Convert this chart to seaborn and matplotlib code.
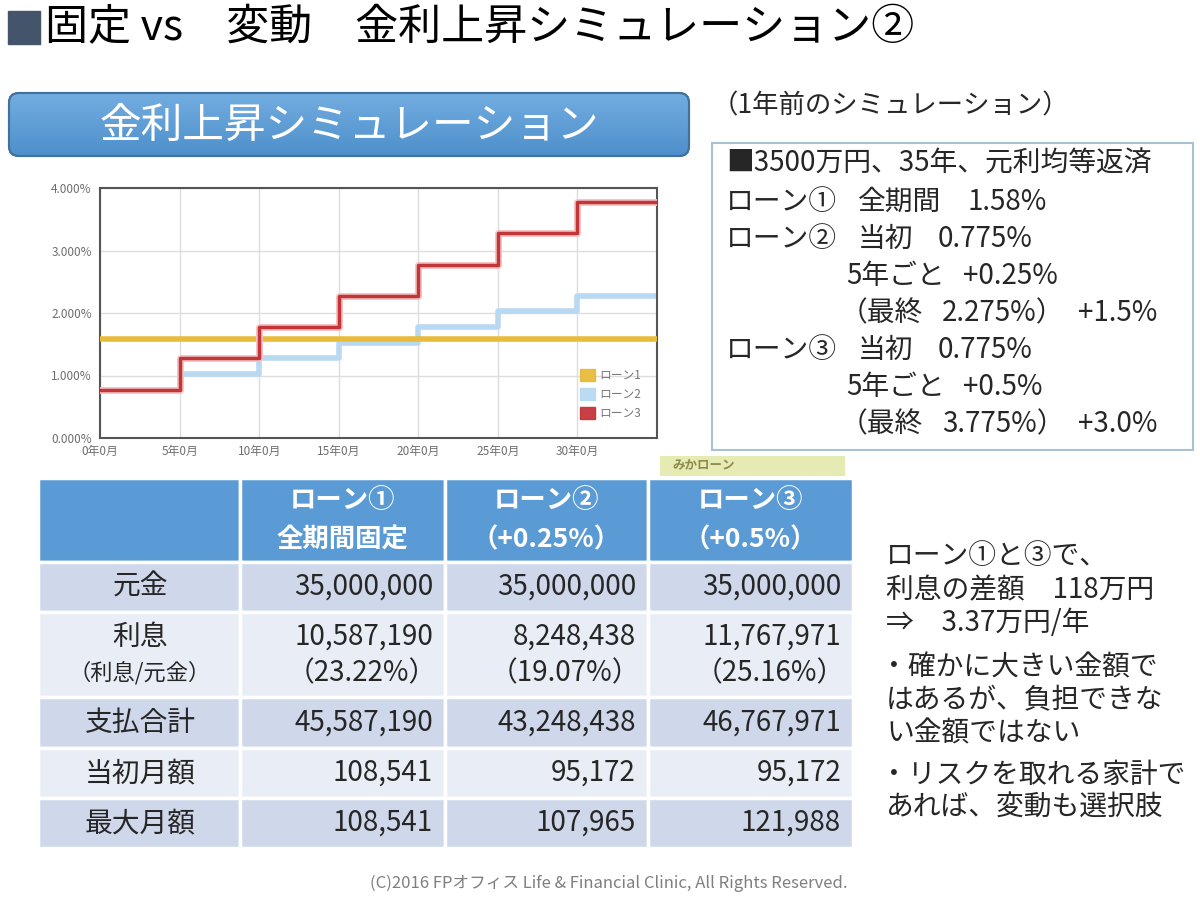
import numpy as np
import pandas as pd
import matplotlib.pyplot as plt
import seaborn as sns
from matplotlib.patches import Rectangle, FancyBboxPatch, Patch
import matplotlib.patheffects as pe

sns.set_theme(style='white')
plt.rcParams['font.family'] = ['Noto Sans CJK JP', 'DejaVu Sans']

# データ
years = [0, 5, 10, 15, 20, 25, 30, 35]
loan1_rate = [1.58, 1.58, 1.58, 1.58, 1.58, 1.58, 1.58, 1.58]
loan2_rate = [0.775, 1.025, 1.275, 1.525, 1.775, 2.025, 2.275, 2.275]
loan3_rate = [0.775, 1.275, 1.775, 2.275, 2.775, 3.275, 3.775, 3.775]
loan_labels = ['ローン1', 'ローン2', 'ローン3']
loan_colors = ['#E8BC3A', '#B9D8F2', '#C4353A']
yticks = [0, 1, 2, 3, 4]
xticks = [0, 5, 10, 15, 20, 25, 30]

col_headers = [('ローン①', '全期間固定'), ('ローン②', '（+0.25%）'), ('ローン③', '（+0.5%）')]
row_labels = ['元金', '利息', '支払合計', '当初月額', '最大月額']
principal = ['35,000,000', '35,000,000', '35,000,000']
interest = ['10,587,190', '8,248,438', '11,767,971']
interest_ratio = ['（23.22%）', '（19.07%）', '（25.16%）']
total_paid = ['45,587,190', '43,248,438', '46,767,971']
first_monthly = ['108,541', '95,172', '95,172']
max_monthly = ['108,541', '107,965', '121,988']

fig = plt.figure(figsize=(12, 9.02), dpi=100)
fig.patch.set_facecolor('white')

# ピクセル座標の背景レイヤー
bg = fig.add_axes([0, 0, 1, 1])
bg.set_xlim(0, 1200)
bg.set_ylim(902, 0)
bg.axis('off')

# タイトル
bg.add_patch(Rectangle((8, 11), 32, 33, color='#44546A'))
bg.text(45, 28, '固定 vs　変動　金利上昇シミュレーション②', fontsize=31, va='center', ha='left', color='black')

# 青いボックス
box = FancyBboxPatch((9, 93), 680, 63, boxstyle='round,pad=0,rounding_size=10',
                     facecolor='#5B9BD5', edgecolor='#41719C', linewidth=1.5)
bg.add_patch(box)
grad = np.linspace(0, 1, 100).reshape(-1, 1)
im = bg.imshow(grad, extent=(9, 689, 156, 93), cmap=sns.blend_palette(['#72ADE0', '#4E8FCB'], as_cmap=True),
               aspect='auto', zorder=2)
im.set_clip_path(box)
bg.add_patch(FancyBboxPatch((9, 93), 680, 63, boxstyle='round,pad=0,rounding_size=10',
                            facecolor='none', edgecolor='#41719C', linewidth=1.5, zorder=3))
bg.text(349, 126, '金利上昇シミュレーション', fontsize=30, color='white', ha='center', va='center', zorder=4)

bg.text(712, 106, '（1年前のシミュレーション）', fontsize=19, ha='left', va='center')

# 右側の条件ボックス
bg.add_patch(Rectangle((712, 143), 481, 307, facecolor='white', edgecolor='#A9C2D2', linewidth=1.5))
fs = 20
bg.text(726, 164, '■3500万円、35年、元利均等返済', fontsize=fs, va='center')
bg.text(726, 202, 'ローン①', fontsize=fs, va='center')
bg.text(858, 202, '全期間', fontsize=fs, va='center')
bg.text(968, 202, '1.58%', fontsize=fs, va='center')
for y0, name, step, last, total in [(239, 'ローン②', '+0.25%', '2.275%', '+1.5%'),
                                     (350, 'ローン③', '+0.5%', '3.775%', '+3.0%')]:
    bg.text(726, y0, name, fontsize=fs, va='center')
    bg.text(858, y0, '当初', fontsize=fs, va='center')
    bg.text(938, y0, '0.775%', fontsize=fs, va='center')
    bg.text(846, y0 + 37, '5年ごと', fontsize=fs, va='center')
    bg.text(963, y0 + 37, step, fontsize=fs, va='center')
    bg.text(840, y0 + 74, '（最終', fontsize=fs, va='center')
    bg.text(942, y0 + 74, last + '）', fontsize=fs, va='center')
    bg.text(1078, y0 + 74, total, fontsize=fs, va='center')

# ロゴ風の帯
bg.add_patch(Rectangle((660, 456), 185, 20, facecolor='#E6EBB4', edgecolor='none'))
bg.text(672, 466, 'みかローン', fontsize=9, color='#8C8A4A', fontweight='bold', va='center')

# 表
xs = [38, 240, 445, 648, 853]
ys = [478, 562, 612, 697, 748, 798, 848]
dark = '#CFD8EA'
light = '#E9EDF5'
row_colors = [dark, light, dark, light, dark]
for c in range(4):
    bg.add_patch(Rectangle((xs[c], ys[0]), xs[c + 1] - xs[c], ys[1] - ys[0],
                           facecolor='#5B9BD5', edgecolor='white', linewidth=2.5))
for r in range(5):
    for c in range(4):
        bg.add_patch(Rectangle((xs[c], ys[r + 1]), xs[c + 1] - xs[c], ys[r + 2] - ys[r + 1],
                               facecolor=row_colors[r], edgecolor='white', linewidth=2.5))

for c, (h1, h2) in enumerate(col_headers):
    cx = (xs[c + 1] + xs[c + 2]) / 2
    bg.text(cx, 500, h1, fontsize=19, color='white', fontweight='bold', ha='center', va='center')
    bg.text(cx, 540, h2, fontsize=19, color='white', fontweight='bold', ha='center', va='center')

tfs = 20
label_x = 140
for r, lab in enumerate(row_labels):
    cy = (ys[r + 1] + ys[r + 2]) / 2
    if lab == '利息':
        bg.text(label_x, 637, lab, fontsize=tfs, ha='center', va='center')
        bg.text(label_x, 673, '（利息/元金）', fontsize=16, ha='center', va='center')
    else:
        bg.text(label_x, cy, lab, fontsize=tfs, ha='center', va='center')

values = [principal, interest, total_paid, first_monthly, max_monthly]
for r, vals in enumerate(values):
    cy = (ys[r + 1] + ys[r + 2]) / 2
    for c, v in enumerate(vals):
        rx = xs[c + 2] - 12
        if r == 1:
            bg.text(rx, 637, v, fontsize=tfs, ha='right', va='center')
            bg.text(rx + 4, 673, interest_ratio[c], fontsize=tfs, ha='right', va='center')
        else:
            bg.text(rx, cy, v, fontsize=tfs, ha='right', va='center')

# 右下のコメント
cfs = 20
bg.text(886, 556, 'ローン①と③で、', fontsize=cfs, va='center')
bg.text(886, 590, '利息の差額　118万円', fontsize=cfs, va='center')
bg.text(886, 623, '⇒　3.37万円/年', fontsize=cfs, va='center')
bg.text(880, 667, '・確かに大きい金額で', fontsize=cfs, va='center')
bg.text(886, 700, 'はあるが、負担できな', fontsize=cfs, va='center')
bg.text(886, 733, 'い金額ではない', fontsize=cfs, va='center')
bg.text(880, 775, '・リスクを取れる家計で', fontsize=cfs, va='center')
bg.text(886, 808, 'あれば、変動も選択肢', fontsize=cfs, va='center')

bg.text(609, 883, '(C)2016 FPオフィス Life & Financial Clinic, All Rights Reserved.',
        fontsize=12, color='#7F7F7F', ha='center', va='center')

# グラフ
ax = fig.add_axes([100 / 1200, 1 - 438 / 902, 557 / 1200, 250 / 902])
ax.set_facecolor('white')
sns.lineplot(x=years, y=loan1_rate, drawstyle='steps-post', color=loan_colors[0], linewidth=4, ax=ax, zorder=3)
sns.lineplot(x=years, y=loan2_rate, drawstyle='steps-post', color=loan_colors[1], linewidth=4, ax=ax, zorder=2)
sns.lineplot(x=years, y=loan3_rate, drawstyle='steps-post', color=loan_colors[2], linewidth=2.5, ax=ax, zorder=4,
             path_effects=[pe.Stroke(linewidth=5, foreground='#F4C4C4'), pe.Normal()])
ax.set_xlim(0, 35)
ax.set_ylim(0, 4)
ax.set_xticks(xticks)
ax.set_xticklabels([f'{x}年0月' for x in xticks])
ax.set_yticks(yticks)
ax.set_yticklabels([f'{y:.3f}%' for y in yticks])
ax.tick_params(axis='both', labelsize=8.5, labelcolor='#6E6E6E', length=0)
ax.tick_params(axis='y', pad=6)
ax.tick_params(axis='x', pad=5)
ax.grid(True, color='#DDDDDD', linewidth=1)
for s in ax.spines.values():
    s.set_color('#555555')
    s.set_linewidth(1.5)
handles = [Patch(facecolor=col, edgecolor=col, alpha=0.95) for col in loan_colors]
ax.legend(handles, loan_labels, loc='lower right', bbox_to_anchor=(0.99, 0.03), frameon=False,
          fontsize=8.5, labelcolor='#777777', handlelength=1.3, handleheight=1.1, labelspacing=0.5,
          handletextpad=0.3)

fig.savefig('out.png', dpi=100)
